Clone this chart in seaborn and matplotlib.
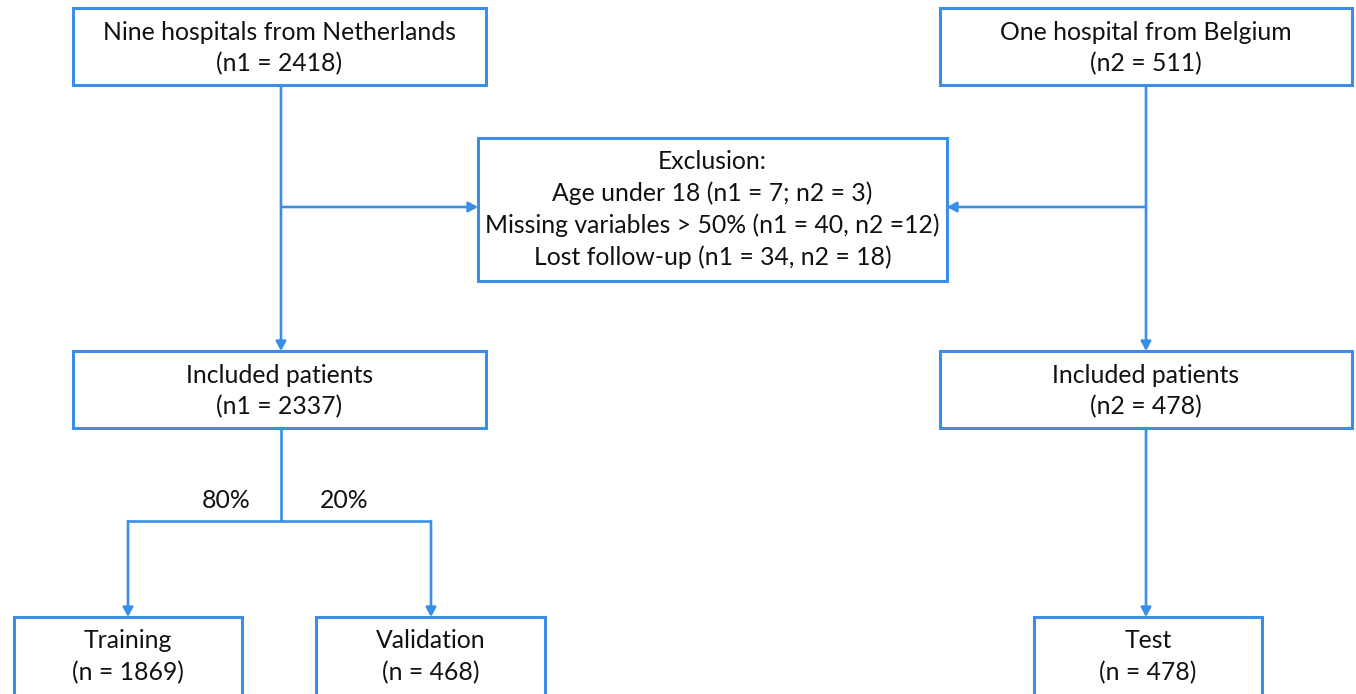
import matplotlib
matplotlib.use("Agg")
import matplotlib.pyplot as plt
import seaborn as sns
from matplotlib.patches import Rectangle

# ==========================
# DATA
# ==========================

box_titles = [
    "Nine hospitals from Netherlands",
    "One hospital from Belgium",
    "Included patients",
    "Included patients",
    "Training",
    "Validation",
    "Test",
]

box_counts = [
    "(n1 = 2418)",
    "(n2 = 511)",
    "(n1 = 2337)",
    "(n2 = 478)",
    "(n = 1869)",
    "(n = 468)",
    "(n = 478)",
]

exclusion_lines = [
    "Exclusion:",
    "Age under 18 (n1 = 7; n2 = 3)",
    "Missing variables > 50% (n1 = 40, n2 =12)",
    "Lost follow-up (n1 = 34, n2 = 18)",
]

split_labels = ["80%", "20%"]

# ==========================
# LAYOUT (pixels, y down)
# ==========================

# x0, y0, x1, y1
box_xy = [
    (73, 8, 486, 85),
    (940, 8, 1352, 85),
    (73, 351, 486, 428),
    (940, 351, 1352, 428),
    (14, 617, 242, 700),
    (316, 617, 545, 700),
    (1034, 617, 1262, 700),
]
excl_xy = (478, 138, 947, 281)

blue = "#3b8ee8"
font = ["Lato", "DejaVu Sans"]
fs = 17.8

sns.set_theme(style="white")
plt.rcParams["font.family"] = font

fig = plt.figure(figsize=(13.56, 6.94), dpi=100)
ax = fig.add_axes([0, 0, 1, 1])
ax.set_xlim(0, 1356)
ax.set_ylim(694, 0)
ax.axis("off")
sns.despine(ax=ax, left=True, bottom=True)


def box(x0, y0, x1, y1):
    ax.add_patch(
        Rectangle(
            (x0, y0),
            x1 - x0,
            y1 - y0,
            facecolor="white",
            edgecolor=blue,
            linewidth=2.2,
            zorder=3
        )
    )


def line(xs, ys):
    ax.plot(xs, ys, color=blue, linewidth=1.9,
            solid_capstyle="butt", zorder=2)


def arrow(x0, y0, x1, y1):
    ax.annotate(
        "",
        xy=(x1, y1),
        xytext=(x0, y0),
        arrowprops=dict(
            arrowstyle="-|>,head_length=0.55,head_width=0.3",
            color=blue,
            linewidth=1.9,
            shrinkA=0,
            shrinkB=0,
            mutation_scale=10
        ),
        zorder=2
    )


# ==========================
# BOXES
# ==========================

for (x0, y0, x1, y1), t, c in zip(box_xy, box_titles, box_counts):
    box(x0, y0, x1, y1)
    cx = (x0 + x1) / 2
    ax.text(cx, y0 + 24, t, ha="center", va="center",
            fontsize=fs, color="#111111", zorder=4)
    ax.text(cx, y0 + 56, c, ha="center", va="center",
            fontsize=fs, color="#111111", zorder=4)

ex0, ey0, ex1, ey1 = excl_xy
box(ex0, ey0, ex1, ey1)
for i, s in enumerate(exclusion_lines):
    ax.text((ex0 + ex1) / 2, ey0 + 23 + i * 32, s,
            ha="center", va="center",
            fontsize=fs, color="#111111", zorder=4)

# ==========================
# CONNECTORS
# ==========================

lx = 281
rx = 1146

arrow(lx, 85, lx, 351)
arrow(lx, 207, 478, 207)
arrow(rx, 85, rx, 351)
arrow(rx, 207, 947, 207)

line([lx, lx], [428, 521])
line([128, 431], [521, 521])
arrow(128, 521, 128, 617)
arrow(431, 521, 431, 617)
arrow(rx, 428, rx, 617)

ax.text(226, 500, split_labels[0], ha="center", va="center",
        fontsize=fs, color="#111111")
ax.text(344, 500, split_labels[1], ha="center", va="center",
        fontsize=fs, color="#111111")

fig.savefig("out.png", dpi=100, facecolor="white")
